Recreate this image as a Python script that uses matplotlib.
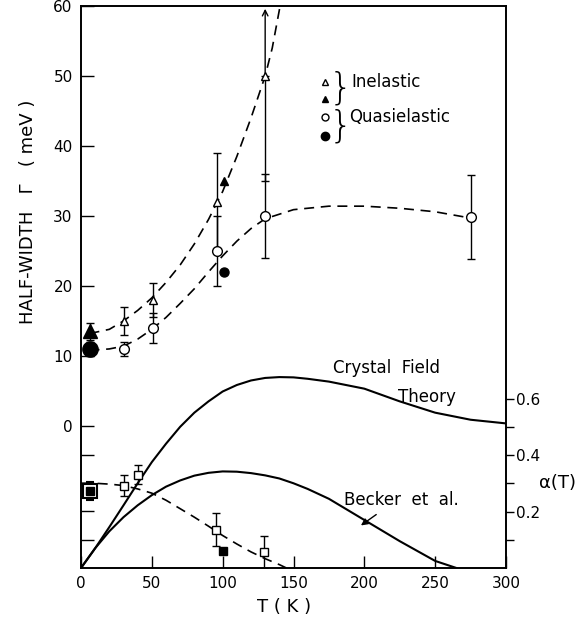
import numpy as np
import matplotlib.pyplot as plt

# --- upper panel: half-width Gamma (meV) vs T (K) ---
# inelastic, open triangles
T_inel = [30, 51, 96, 130]
G_inel = [15, 18, 32, 50]
E_inel_lo = [2, 2.4, 7, 15]
E_inel_hi = [2, 2.4, 7, 0]
# inelastic, filled triangles
T_inel_f = [6, 101]
G_inel_f = [13.5, 35]
# quasielastic, open circles
T_quasi = [30, 51, 96, 130, 275]
G_quasi = [11, 14, 25, 30, 29.8]
E_quasi = [1, 2.2, 5, 6, 6]
# quasielastic, filled circles
T_quasi_f = [6, 101]
G_quasi_f = [11, 22]

# dashed guide curves
T_inel_fit = [6, 20, 30, 40, 50, 60, 70, 80, 90, 100, 110, 120, 130, 135, 141]
G_inel_fit = [13.2, 13.8, 15, 16.5, 18.3, 20.5, 23, 26, 29.5, 33.5, 38.5, 44, 50, 54, 60.5]
T_quasi_fit = [6, 20, 30, 40, 50, 60, 70, 80, 90, 100, 110, 120, 130, 150, 175, 200, 225, 250, 275]
G_quasi_fit = [10.8, 11.0, 11.4, 12.4, 13.8, 15.5, 17.5, 19.6, 22.0, 24.3, 26.4, 28.2,
               29.6, 30.9, 31.4, 31.4, 31.1, 30.6, 29.7]

# --- lower panel: alpha(T) ---
T_cf = [0, 10, 20, 30, 40, 50, 60, 70, 80, 90, 100, 110, 120, 130, 140, 150, 160, 175,
        200, 225, 250, 275, 300]
a_cf = [0, 0.07, 0.145, 0.222, 0.30, 0.375, 0.44, 0.50, 0.55, 0.59, 0.625, 0.648, 0.664,
        0.673, 0.676, 0.675, 0.670, 0.660, 0.635, 0.590, 0.550, 0.525, 0.512]
T_becker = [0, 10, 20, 30, 40, 50, 60, 70, 80, 90, 100, 110, 120, 130, 140, 150, 160, 175,
            200, 225, 250, 265]
a_becker = [0, 0.07, 0.13, 0.18, 0.222, 0.258, 0.288, 0.31, 0.327, 0.337, 0.342, 0.341,
            0.336, 0.328, 0.317, 0.30, 0.28, 0.245, 0.17, 0.095, 0.025, 0.0]
T_afit = [0, 10, 20, 30, 40, 50, 60, 70, 80, 90, 100, 110, 120, 130, 140, 145]
a_afit = [0.30, 0.30, 0.297, 0.292, 0.28, 0.265, 0.24, 0.21, 0.18, 0.148, 0.115, 0.085,
          0.057, 0.033, 0.012, 0.0]
T_sq = [30, 40, 95, 129]
a_sq = [0.292, 0.331, 0.135, 0.057]
E_sq = [0.037, 0.035, 0.058, 0.057]
T_sq_f = [6, 100]
a_sq_f = [0.274, 0.06]

x_ticks = [0, 50, 100, 150, 200, 250, 300]
g_ticks = [0, 10, 20, 30, 40, 50, 60]
a_ticks = [0.2, 0.4, 0.6]
a_minor = [0.1, 0.3, 0.5]

plt.rcParams['font.family'] = 'DejaVu Sans'
fig = plt.figure(figsize=(5.84, 6.19), dpi=100)
ax = fig.add_axes([81 / 584, 51 / 619, 425 / 584, 562 / 619])
ax2 = ax.twinx()

ax.set_xlim(0, 300)
ax.set_ylim(-20.3, 60)
ax2.set_ylim(0, 1.99)

dash = (0, (6, 4))
ax.plot(T_inel_fit, G_inel_fit, color='k', lw=1.2, ls=dash)
ax.plot(T_quasi_fit, G_quasi_fit, color='k', lw=1.2, ls=dash)

ax.errorbar(T_inel, G_inel, yerr=[E_inel_lo, E_inel_hi], fmt='^', ms=6, mfc='white',
            mec='k', ecolor='k', elinewidth=1, capsize=3, mew=1, zorder=4)
ax.annotate('', xy=(130, 59.6), xytext=(130, 50),
            arrowprops=dict(arrowstyle='->', color='k', lw=1, shrinkA=0, shrinkB=0))
ax.errorbar(T_inel_f[:1], G_inel_f[:1], yerr=1.2, fmt='^', ms=10, color='k',
            ecolor='k', elinewidth=1, capsize=3, zorder=4)
ax.plot(T_inel_f[1:], G_inel_f[1:], '^', ms=6, color='k', zorder=4)

ax.errorbar(T_quasi, G_quasi, yerr=E_quasi, fmt='o', ms=7, mfc='white', mec='k',
            ecolor='k', elinewidth=1, capsize=3, mew=1, zorder=4)
ax.errorbar(T_quasi_f[:1], G_quasi_f[:1], yerr=1, fmt='o', ms=11, color='k',
            ecolor='k', elinewidth=1, capsize=3, zorder=4)
ax.plot(T_quasi_f[1:], G_quasi_f[1:], 'o', ms=6.5, color='k', zorder=4)

ax2.plot(T_cf, a_cf, color='k', lw=1.5)
ax2.plot(T_becker, a_becker, color='k', lw=1.5)
ax2.plot(T_afit, a_afit, color='k', lw=1.2, ls=dash)
ax2.errorbar(T_sq, a_sq, yerr=E_sq, fmt='s', ms=6, mfc='white', mec='k', ecolor='k',
             elinewidth=1, capsize=3, mew=1, zorder=4)
ax2.errorbar(T_sq_f[:1], a_sq_f[:1], yerr=0.032, fmt='s', ms=10, mfc='white', mec='k',
             ecolor='k', elinewidth=1, capsize=3, mew=1.5, zorder=4)
ax2.plot(T_sq_f[:1], a_sq_f[:1], 's', ms=6, color='k', zorder=5)
ax2.plot(T_sq_f[1:], a_sq_f[1:], 's', ms=6, color='k', zorder=5)

# ticks
ax.set_xticks(x_ticks)
ax.set_yticks(g_ticks)
# unlabeled left ticks at alpha positions
a2g = lambda a: (a * 282.5 - 142) / 7.0
ax.set_yticks([a2g(a) for a in [0.1, 0.2, 0.3, 0.4]], minor=True)
ax.tick_params(axis='both', which='both', direction='in', length=9, width=1,
               labelsize=11, pad=6, right=False, top=False)
ax2.set_yticks(a_ticks)
ax2.set_yticks(a_minor, minor=True)
ax2.set_yticklabels(['0.2', '0.4', '0.6'])
ax2.tick_params(axis='y', which='both', direction='out', length=6, width=1,
                labelsize=11, pad=1, left=False)
for s in list(ax.spines.values()) + list(ax2.spines.values()):
    s.set_linewidth(1.2)

# legend
lx = 172
ax.plot([lx], [49.1], '^', ms=4.5, mfc='white', mec='k', mew=1)
ax.plot([lx], [46.7], '^', ms=5, color='k')
ax.plot([lx], [44.1], 'o', ms=5, mfc='white', mec='k', mew=1)
ax.plot([lx], [41.4], 'o', ms=6, color='k')
ax.text(183, 48.3, '}', fontsize=27, ha='center', va='center', fontweight='light')
ax.text(183, 42.9, '}', fontsize=27, ha='center', va='center', fontweight='light')
ax.text(191, 49.1, 'Inelastic', fontsize=12, va='center')
ax.text(189, 44.1, 'Quasielastic', fontsize=12, va='center')

# curve labels
ax2.text(178, 0.707, 'Crystal  Field', fontsize=12, va='center')
ax2.text(224, 0.605, 'Theory', fontsize=12, va='center')
ax2.text(186, 0.24, 'Becker  et  al.', fontsize=12, va='center')
ax2.annotate('', xy=(196, 0.145), xytext=(210, 0.195),
             arrowprops=dict(arrowstyle='-|>', color='k', lw=1, mutation_scale=10))

fig.text(28 / 584, 1 - 212 / 619, 'HALF-WIDTH   \u0393   ( meV )', rotation=90,
         fontsize=13, ha='center', va='center')
fig.text(557 / 584, 1 - 483 / 619, '\u03b1(T)', fontsize=13, ha='center', va='center')
fig.text(284 / 584, 1 - 607 / 619, 'T ( K )', fontsize=13, ha='center', va='center')

fig.savefig('out.png', dpi=100)
